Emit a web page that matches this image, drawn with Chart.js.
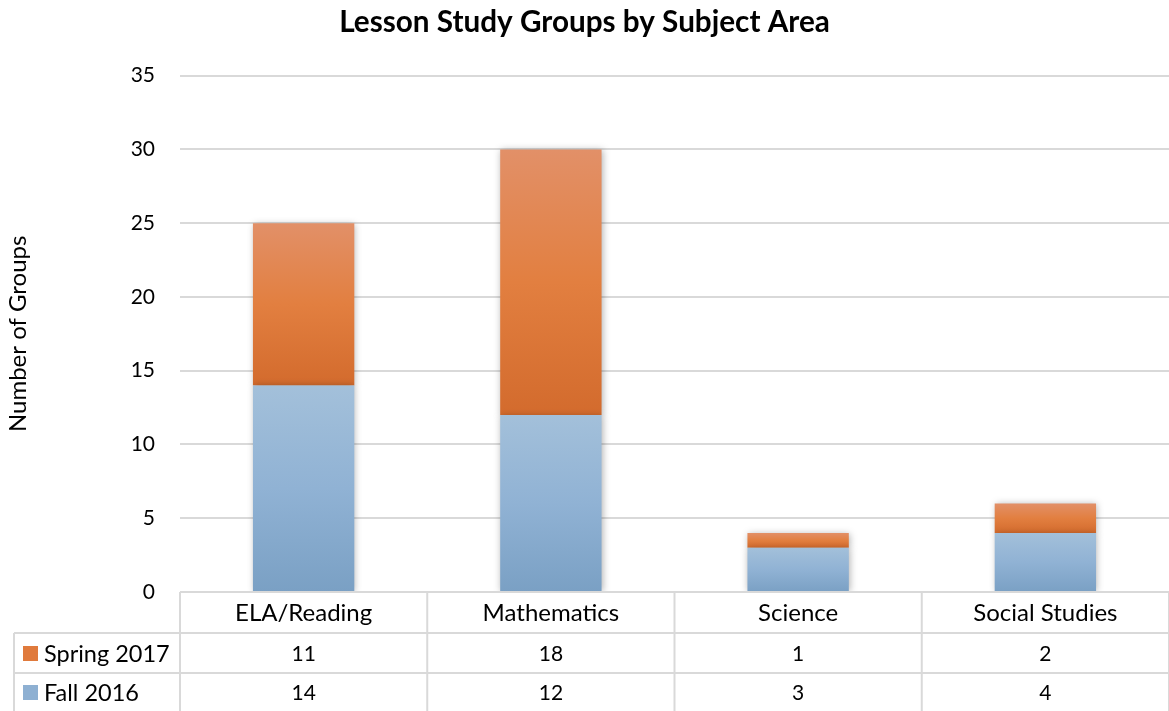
<!DOCTYPE html>
<html>
<head>
<meta charset="utf-8">
<script src="https://cdn.jsdelivr.net/npm/chart.js@4.4.1/dist/chart.umd.min.js"></script>
<style>
  html, body { margin: 0; padding: 0; background: #fff; }
  #wrap { width: 1169px; height: 711px; }
</style>
</head>
<body>
<div id="wrap"><canvas id="myChart"></canvas></div>
<script>
// dati
const subjects = ['ELA/Reading', 'Mathematics', 'Science', 'Social Studies'];
const fall2016 = [14, 12, 3, 4];
const spring2017 = [11, 18, 1, 2];
const yTicks = [0, 5, 10, 15, 20, 25, 30, 35];

const FONT = 'Lato, "Open Sans", sans-serif';

// gradiente verticale per ogni barra (chiaro in alto, scuro in basso)
function barGradient(stops, getRange) {
  return function (context) {
    const chart = context.chart;
    const y = chart.scales.y;
    if (!y || context.dataIndex === undefined) return stops[1];
    const r = getRange(context.dataIndex);
    const top = y.getPixelForValue(r[1]);
    const bottom = y.getPixelForValue(r[0]);
    if (!isFinite(top) || !isFinite(bottom) || top === bottom) return stops[1];
    const g = chart.ctx.createLinearGradient(0, top, 0, bottom);
    g.addColorStop(0, stops[0]);
    g.addColorStop(0.5, stops[1]);
    g.addColorStop(1, stops[2]);
    return g;
  };
}

const blueStops = ['#a3c0da', '#90b2d4', '#7aa0c4'];
const orangeStops = ['#e29068', '#e27f40', '#d36b2d'];

// ombra leggera sulle barre
const shadowPlugin = {
  id: 'shadow',
  beforeDatasetsDraw(chart) {
    const c = chart.ctx;
    c.save();
    c.shadowColor = 'rgba(0,0,0,0.3)';
    c.shadowBlur = 7;
    c.shadowOffsetX = 1;
    c.shadowOffsetY = 1;
  },
  afterDatasetsDraw(chart) {
    chart.ctx.restore();
  }
};

// tabella dati sotto il grafico
const tablePlugin = {
  id: 'dataTable',
  afterDraw(chart) {
    const c = chart.ctx;
    const x = chart.scales.x;
    const area = chart.chartArea;
    const rowH = [41, 40, 38];
    const y0 = area.bottom;
    const y1 = y0 + rowH[0];
    const y2 = y1 + rowH[1];
    const y3 = y2 + rowH[2];
    const catW = (area.right - area.left) / subjects.length;
    const leftEdge = 14;

    c.save();
    c.strokeStyle = '#d9d9d9';
    c.lineWidth = 2;
    c.beginPath();
    // orizzontali
    c.moveTo(area.left, y0); c.lineTo(area.right, y0);
    c.moveTo(leftEdge, y1); c.lineTo(area.right, y1);
    c.moveTo(leftEdge, y2); c.lineTo(area.right, y2);
    // verticali
    for (let i = 0; i <= subjects.length; i++) {
      const vx = area.left + i * catW;
      c.moveTo(vx, y0); c.lineTo(vx, y3);
    }
    c.moveTo(leftEdge, y1); c.lineTo(leftEdge, y3);
    c.stroke();

    c.fillStyle = '#000';
    c.textAlign = 'center';
    c.textBaseline = 'middle';
    subjects.forEach((s, i) => {
      const cx = x.getPixelForValue(i);
      c.font = '24px ' + FONT;
      c.fillText(s, cx, (y0 + y1) / 2 + 1);
      c.font = '21px ' + FONT;
      c.fillText(String(spring2017[i]), cx, (y1 + y2) / 2 + 1);
      c.fillText(String(fall2016[i]), cx, (y2 + y3) / 2 + 1);
    });

    // legenda nella tabella
    const rows = [
      { label: 'Spring 2017', color: '#e07a3c', y: (y1 + y2) / 2 },
      { label: 'Fall 2016', color: '#8eb0d2', y: (y2 + y3) / 2 }
    ];
    c.textAlign = 'left';
    c.font = '23.5px ' + FONT;
    rows.forEach(r => {
      c.fillStyle = r.color;
      c.fillRect(23, r.y - 7, 15, 15);
      c.fillStyle = '#000';
      c.fillText(r.label, 44, r.y + 1);
    });
    c.restore();
  }
};

const ctx = document.getElementById('myChart');

new Chart(ctx, {
  type: 'bar',
  data: {
    labels: subjects,
    datasets: [{
      label: 'Fall 2016',
      data: fall2016,
      backgroundColor: barGradient(blueStops, i => [0, fall2016[i]]),
      borderWidth: 0,
      categoryPercentage: 0.41,
      barPercentage: 1
    }, {
      label: 'Spring 2017',
      data: spring2017,
      backgroundColor: barGradient(orangeStops, i => [fall2016[i], fall2016[i] + spring2017[i]]),
      borderWidth: 0,
      categoryPercentage: 0.41,
      barPercentage: 1
    }]
  },
  options: {
    responsive: true,
    maintainAspectRatio: false,
    animation: false,
    devicePixelRatio: 1,
    layout: { padding: { left: 0, right: 0, top: 0, bottom: 119 } },
    plugins: {
      legend: { display: false },
      tooltip: { enabled: false },
      title: {
        display: true,
        text: 'Lesson Study Groups by Subject Area',
        color: '#000',
        font: { family: FONT, size: 29.7, weight: 'bold', lineHeight: 1.2 },
        padding: { top: 5, bottom: 35 }
      }
    },
    scales: {
      x: {
        stacked: true,
        display: false
      },
      y: {
        stacked: true,
        min: 0,
        max: 35,
        afterBuildTicks(scale) {
          scale.ticks = yTicks.map(v => ({ value: v }));
        },
        afterFit(scale) { scale.width = 180; },
        border: { display: false },
        grid: { color: '#d9d9d9', lineWidth: 2, drawTicks: false },
        ticks: {
          color: '#000',
          padding: 25,
          font: { family: FONT, size: 21 }
        },
        title: {
          display: true,
          text: 'Number of Groups',
          color: '#000',
          font: { family: FONT, size: 24 },
          padding: { top: 4, bottom: 0 }
        }
      }
    }
  },
  plugins: [shadowPlugin, tablePlugin]
});
</script>
</body>
</html>
